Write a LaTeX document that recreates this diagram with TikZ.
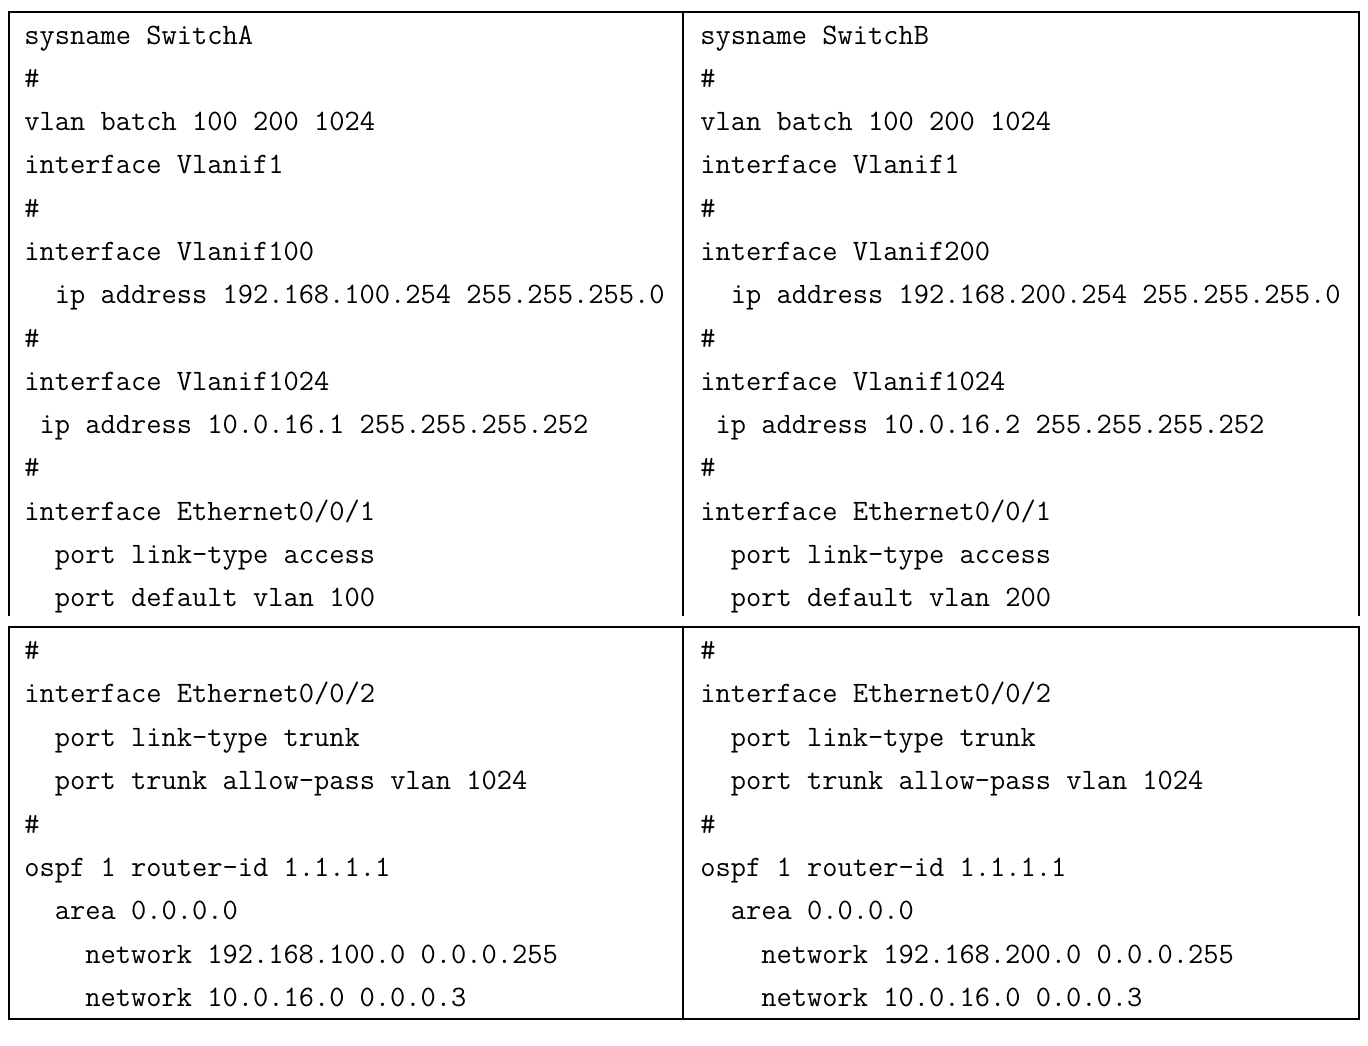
\documentclass[tikz,border=0pt]{standalone}
\usepackage{fontspec}
\tikzset{
  codeline/.style={anchor=base west, inner sep=0pt, font=\ttfamily\fontsize{14.8pt}{16pt}\selectfont},
  frame/.style={line width=1pt, draw=black}
}
\begin{document}
\begin{tikzpicture}[x=0.5pt,y=-0.5pt]
\useasboundingbox (0,0) rectangle (1368,1045);
% frames
\draw[frame] (9,616) -- (9,12) -- (1359,12) -- (1359,616);
\draw[frame] (683,12) -- (683,616);
\draw[frame] (9,627) rectangle (1359,1019);
\draw[frame] (683,627) -- (683,1019);
% left top
\node[codeline] (a1)  at (24,44.0)  {sysname SwitchA};
\node[codeline] (a2)  at (24,87.3)  {\#};
\node[codeline] (a3)  at (24,130.6) {vlan batch 100 200 1024};
\node[codeline] (a4)  at (24,173.8) {interface Vlanif1};
\node[codeline] (a5)  at (24,217.1) {\#};
\node[codeline] (a6)  at (24,260.4) {interface Vlanif100};
\node[codeline] (a7)  at (24,303.7) {\ \ ip address 192.168.100.254 255.255.255.0};
\node[codeline] (a8)  at (24,347.0) {\#};
\node[codeline] (a9)  at (24,390.2) {interface Vlanif1024};
\node[codeline] (a10) at (24,433.5) {\ ip address 10.0.16.1 255.255.255.252};
\node[codeline] (a11) at (24,476.8) {\#};
\node[codeline] (a12) at (24,520.1) {interface Ethernet0/0/1};
\node[codeline] (a13) at (24,563.4) {\ \ port link-type access};
\node[codeline] (a14) at (24,606.7) {\ \ port default vlan 100};
% right top
\node[codeline] (b1)  at (700,44.0)  {sysname SwitchB};
\node[codeline] (b2)  at (700,87.3)  {\#};
\node[codeline] (b3)  at (700,130.6) {vlan batch 100 200 1024};
\node[codeline] (b4)  at (700,173.8) {interface Vlanif1};
\node[codeline] (b5)  at (700,217.1) {\#};
\node[codeline] (b6)  at (700,260.4) {interface Vlanif200};
\node[codeline] (b7)  at (700,303.7) {\ \ ip address 192.168.200.254 255.255.255.0};
\node[codeline] (b8)  at (700,347.0) {\#};
\node[codeline] (b9)  at (700,390.2) {interface Vlanif1024};
\node[codeline] (b10) at (700,433.5) {\ ip address 10.0.16.2 255.255.255.252};
\node[codeline] (b11) at (700,476.8) {\#};
\node[codeline] (b12) at (700,520.1) {interface Ethernet0/0/1};
\node[codeline] (b13) at (700,563.4) {\ \ port link-type access};
\node[codeline] (b14) at (700,606.7) {\ \ port default vlan 200};
% left bottom
\node[codeline] (c1) at (24,659.5)  {\#};
\node[codeline] (c2) at (24,702.9)  {interface Ethernet0/0/2};
\node[codeline] (c3) at (24,746.3)  {\ \ port link-type trunk};
\node[codeline] (c4) at (24,789.7)  {\ \ port trunk allow-pass vlan 1024};
\node[codeline] (c5) at (24,833.1)  {\#};
\node[codeline] (c6) at (24,876.5)  {ospf 1 router-id 1.1.1.1};
\node[codeline] (c7) at (24,919.9)  {\ \ area 0.0.0.0};
\node[codeline] (c8) at (24,963.3)  {\ \ \ \ network 192.168.100.0 0.0.0.255};
\node[codeline] (c9) at (24,1006.7) {\ \ \ \ network 10.0.16.0 0.0.0.3};
% right bottom
\node[codeline] (d1) at (700,659.5)  {\#};
\node[codeline] (d2) at (700,702.9)  {interface Ethernet0/0/2};
\node[codeline] (d3) at (700,746.3)  {\ \ port link-type trunk};
\node[codeline] (d4) at (700,789.7)  {\ \ port trunk allow-pass vlan 1024};
\node[codeline] (d5) at (700,833.1)  {\#};
\node[codeline] (d6) at (700,876.5)  {ospf 1 router-id 1.1.1.1};
\node[codeline] (d7) at (700,919.9)  {\ \ area 0.0.0.0};
\node[codeline] (d8) at (700,963.3)  {\ \ \ \ network 192.168.200.0 0.0.0.255};
\node[codeline] (d9) at (700,1006.7) {\ \ \ \ network 10.0.16.0 0.0.0.3};
\end{tikzpicture}
\end{document}
